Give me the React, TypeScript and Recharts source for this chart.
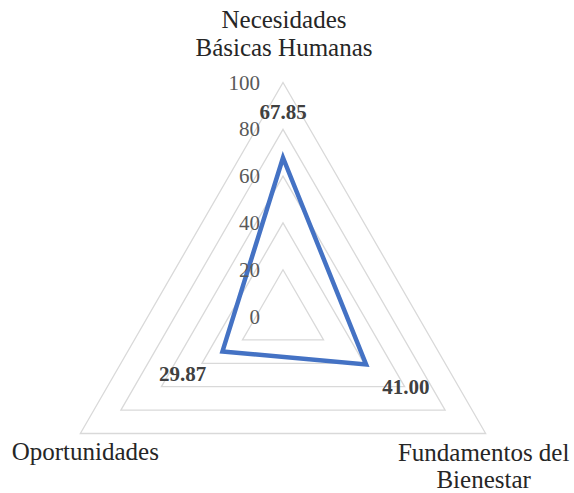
import React from "react";
import {
  RadarChart,
  Radar,
  PolarGrid,
  PolarAngleAxis,
  PolarRadiusAxis,
  LabelList,
} from "recharts";

const categories = [
  "Necesidades\nBásicas Humanas",
  "Fundamentos del\nBienestar",
  "Oportunidades",
];
const values = [67.85, 41.0, 29.87];
const radiusTicks = [0, 20, 40, 60, 80, 100];

const data = categories.map((name, i) => ({ name, value: values[i] }));

const CX = 283;
const CY = 316.5;
const R = 234;
const FONT = "'Liberation Serif', 'Times New Roman', serif";

// per-category label placement relative to the triangle vertex
const labelOffsets = [
  { dx: 1, lines: [-63, -35] },
  { dx: -2, lines: [19, 46] },
  { dx: 5, lines: [18] },
];

const AngleTick = (props: any) => {
  const { payload, index } = props;
  const ang = (payload.coordinate * Math.PI) / 180;
  const vx = CX + R * Math.cos(ang);
  const vy = CY - R * Math.sin(ang);
  const lines = String(payload.value).split("\n");
  const off = labelOffsets[index] || { dx: 0, lines: [20, 48] };
  return (
    <g>
      {lines.map((l, i) => (
        <text
          key={i}
          x={vx + off.dx}
          y={vy + (off.lines[i] ?? 20 + i * 29)}
          textAnchor="middle"
          dominantBaseline="central"
          fontFamily={FONT}
          fontSize={25}
          fill="#262626"
        >
          {l}
        </text>
      ))}
    </g>
  );
};

const RadiusTick = (props: any) => {
  const { y, payload } = props;
  return (
    <text
      x={CX - 23}
      y={y}
      textAnchor="end"
      dominantBaseline="central"
      fontFamily={FONT}
      fontSize={21}
      fill="#595959"
    >
      {payload.value}
    </text>
  );
};

const ValueLabel = (props: any) => {
  const { x, y, value } = props;
  const dx = x - CX;
  const dy = y - CY;
  const d = Math.sqrt(dx * dx + dy * dy) || 1;
  const dist = 46;
  return (
    <text
      x={x + (dx / d) * dist}
      y={y + (dy / d) * dist}
      textAnchor="middle"
      dominantBaseline="central"
      fontFamily={FONT}
      fontSize={21}
      fontWeight="bold"
      fill="#404040"
    >
      {Number(value).toFixed(2)}
    </text>
  );
};

export default function App() {
  return (
    <div style={{ position: "absolute", left: 0, top: 0, background: "#fff" }}>
      <RadarChart
        width={574}
        height={493}
        data={data}
        cx={CX}
        cy={CY}
        outerRadius={R}
        margin={{ top: 0, right: 0, bottom: 0, left: 0 }}
      >
        <PolarGrid gridType="polygon" radialLines={false} stroke="#d9d9d9" strokeWidth={1.3} />
        <PolarAngleAxis dataKey="name" tick={<AngleTick />} tickLine={false} axisLine={false} />
        <PolarRadiusAxis
          angle={90}
          domain={[0, 100]}
          ticks={radiusTicks}
          tickCount={6}
          axisLine={false}
          tick={<RadiusTick />}
        />
        <Radar
          dataKey="value"
          stroke="#4472C4"
          strokeWidth={4.5}
          fill="none"
          fillOpacity={0}
          dot={false}
          isAnimationActive={false}
        >
          <LabelList dataKey="value" content={<ValueLabel />} />
        </Radar>
      </RadarChart>
    </div>
  );
}
